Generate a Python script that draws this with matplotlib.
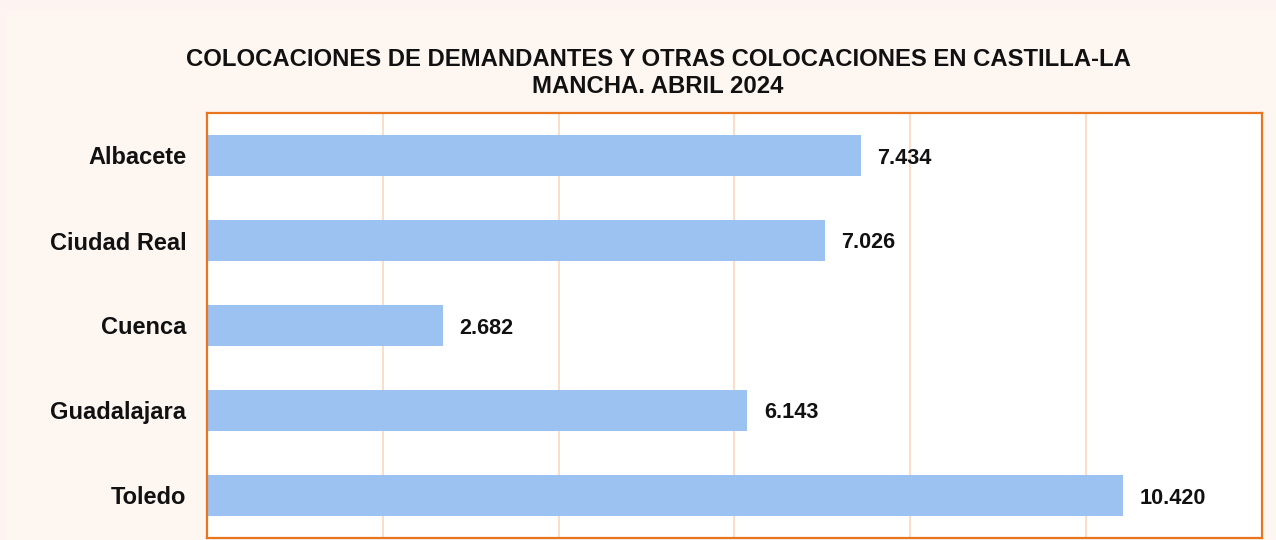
import matplotlib
matplotlib.use("Agg")
import matplotlib.pyplot as plt
from matplotlib.patches import Rectangle

plt.rcParams["font.family"] = ["Liberation Sans", "DejaVu Sans"]

provincias = ["Albacete", "Ciudad Real", "Cuenca", "Guadalajara", "Toledo"]
colocaciones = [7434, 7026, 2682, 6143, 10420]
titulo = "COLOCACIONES DE DEMANDANTES Y OTRAS COLOCACIONES EN CASTILLA-LA\nMANCHA. ABRIL 2024"


def fmt_es(v: int) -> str:
    return f"{v:,}".replace(",", ".")


fig = plt.figure(figsize=(12.76, 5.4), dpi=100, facecolor="#fdf3f1")
# panel interior, un poco más cálido
fig.patches.append(Rectangle((7 / 1276, 0), 1, 1 - 10 / 540, transform=fig.transFigure,
                             facecolor="#fdf6f1", edgecolor="none", zorder=-10))

ax = fig.add_axes([207 / 1276, 2 / 540, 1055 / 1276, 425 / 540])
ax.set_zorder(5)
ax.set_facecolor("white")

pos = range(len(provincias))
ax.barh(pos, colocaciones, height=0.49, color="#9cc2f1", zorder=2)
for y, v in zip(pos, colocaciones):
    ax.text(v + 190, y, fmt_es(v), va="center_baseline", ha="left",
            fontsize=15.6, fontweight="bold", color="#111111", zorder=3)

ax.set_xlim(0, 12000)
ax.set_ylim(4.5, -0.5)
ax.set_xticks(range(0, 12001, 2000))
ax.xaxis.grid(True, color="#f8d8bd", linewidth=1.2, zorder=1)
ax.tick_params(axis="x", length=0, labelbottom=False)
ax.tick_params(axis="y", length=0, pad=15)
ax.set_yticks(list(pos))
ax.set_yticklabels(provincias, fontsize=17, fontweight="bold", color="#111111")
for s in ax.spines.values():
    s.set_color("#e8761e")
    s.set_linewidth(1.6)

fig.text(658 / 1276, 1 - 73 / 540, titulo, ha="center", va="center",
         fontsize=17.2, fontweight="bold", color="#111111", linespacing=1.2)

fig.savefig("out.png", dpi=100, facecolor=fig.get_facecolor())
